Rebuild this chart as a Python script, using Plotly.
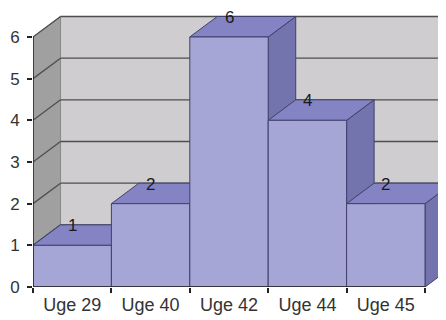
import plotly.graph_objects as go

# ---- data ----
categories = ["Uge 29", "Uge 40", "Uge 42", "Uge 44", "Uge 45"]
values = [1, 2, 6, 4, 2]
y_ticks = [0, 1, 2, 3, 4, 5, 6]

# ---- pseudo-3D geometry (in axis units) ----
DX = 0.351   # depth offset along x
DY = 0.492   # depth offset along y
XMIN = -0.5
YTOP = 6
n = len(categories)
pos = list(range(n))

# page body has an 8px default margin; size the figure to the remaining window
PAGE_OFF = 8
W, H = 446 - PAGE_OFF, 320 - PAGE_OFF
L = 33 - PAGE_OFF
B = H - (287 - PAGE_OFF)
T = 2
PX_PER_X = 78.4
PX_PER_Y = 41.67
XMAX = XMIN + (W - L) / PX_PER_X
YMAX = (H - B - T) / PX_PER_Y

FRONT = "#A6A6D6"
TOP = "#8484C4"
SIDE = "#7373AD"
EDGE = "#40406A"
BACK = "#CFCDCF"
LEFTWALL = "#A0A0A0"
GRID = "#4E4E4E"

shapes = []
# back wall
shapes.append(dict(type="rect", xref="x", yref="y", layer="below",
                   x0=XMIN + DX, x1=XMAX + 1, y0=DY, y1=YTOP + DY,
                   fillcolor=BACK, line=dict(color="#9A9A9A", width=1)))
# left wall
shapes.append(dict(type="path", xref="x", yref="y", layer="below",
                   path=f"M{XMIN},0 L{XMIN},{YTOP} L{XMIN+DX},{YTOP+DY} L{XMIN+DX},{DY} Z",
                   fillcolor=LEFTWALL, line=dict(color="#8A8A8A", width=1)))
# gridlines
for k in y_ticks:
    if k > 0:
        shapes.append(dict(type="line", xref="x", yref="y", layer="below",
                           x0=XMIN + DX, x1=XMAX + 1, y0=k + DY, y1=k + DY,
                           line=dict(color=GRID, width=1.3)))
    shapes.append(dict(type="line", xref="x", yref="y", layer="below",
                       x0=XMIN, x1=XMIN + DX, y0=k, y1=k + DY,
                       line=dict(color=GRID, width=1.3)))
# bar sides and tops
for i, v in zip(pos, values):
    shapes.append(dict(type="path", xref="x", yref="y", layer="below",
                       path=f"M{i+0.5},0 L{i+0.5},{v} L{i+0.5+DX},{v+DY} L{i+0.5+DX},{DY} Z",
                       fillcolor=SIDE, line=dict(color=EDGE, width=1)))
    shapes.append(dict(type="path", xref="x", yref="y", layer="below",
                       path=f"M{i-0.5},{v} L{i+0.5},{v} L{i+0.5+DX},{v+DY} L{i-0.5+DX},{v+DY} Z",
                       fillcolor=TOP, line=dict(color=EDGE, width=1)))
# front axis lines
shapes.append(dict(type="line", xref="x", yref="y", layer="above",
                   x0=XMIN, x1=XMIN, y0=0, y1=YTOP, line=dict(color="#222", width=1.5)))
shapes.append(dict(type="line", xref="x", yref="y", layer="above",
                   x0=XMIN, x1=n - 0.5, y0=0, y1=0, line=dict(color="#222", width=1.5)))

annotations = [dict(x=i, y=v + DY, xref="x", yref="y", text=str(v), showarrow=False,
                    font=dict(size=17, color="#1A1A1A"), yanchor="middle", yshift=-1)
               for i, v in zip(pos, values)]

fig = go.Figure()
fig.add_trace(go.Bar(x=pos, y=values, width=1, marker=dict(color=FRONT, line=dict(color=EDGE, width=1)),
                     hoverinfo="skip", showlegend=False))
fig.add_trace(go.Scatter(x=pos, y=values, xaxis="x2", mode="markers", marker=dict(opacity=0),
                         hoverinfo="skip", showlegend=False))

fig.update_layout(
    width=W, height=H,
    margin=dict(l=L, r=0, t=T, b=B, autoexpand=False),
    paper_bgcolor="white", plot_bgcolor="white",
    font=dict(family="Liberation Sans, Arial, sans-serif", color="#333"),
    shapes=shapes, annotations=annotations,
    xaxis=dict(range=[XMIN, XMAX], showgrid=False, zeroline=False, showline=False, automargin=False,
               tickvals=[b - 0.5 for b in range(n + 1)], ticktext=[""] * (n + 1),
               ticks="outside", ticklen=5, tickcolor="#222", tickwidth=1.5),
    xaxis2=dict(range=[XMIN, XMAX], overlaying="x", side="bottom", showgrid=False, automargin=False,
                zeroline=False, showline=False, tickvals=pos, ticktext=categories,
                ticks="", tickfont=dict(size=18, color="#333"), ticklabelstandoff=5),
    yaxis=dict(range=[0, YMAX], showgrid=False, zeroline=False, showline=False,
               automargin=False, tickvals=y_ticks, ticks="outside", ticklen=5, tickcolor="#222",
               tickwidth=1.5, tickfont=dict(size=17, color="#333"), ticklabelstandoff=4),
)

fig.write_html("out.html")
